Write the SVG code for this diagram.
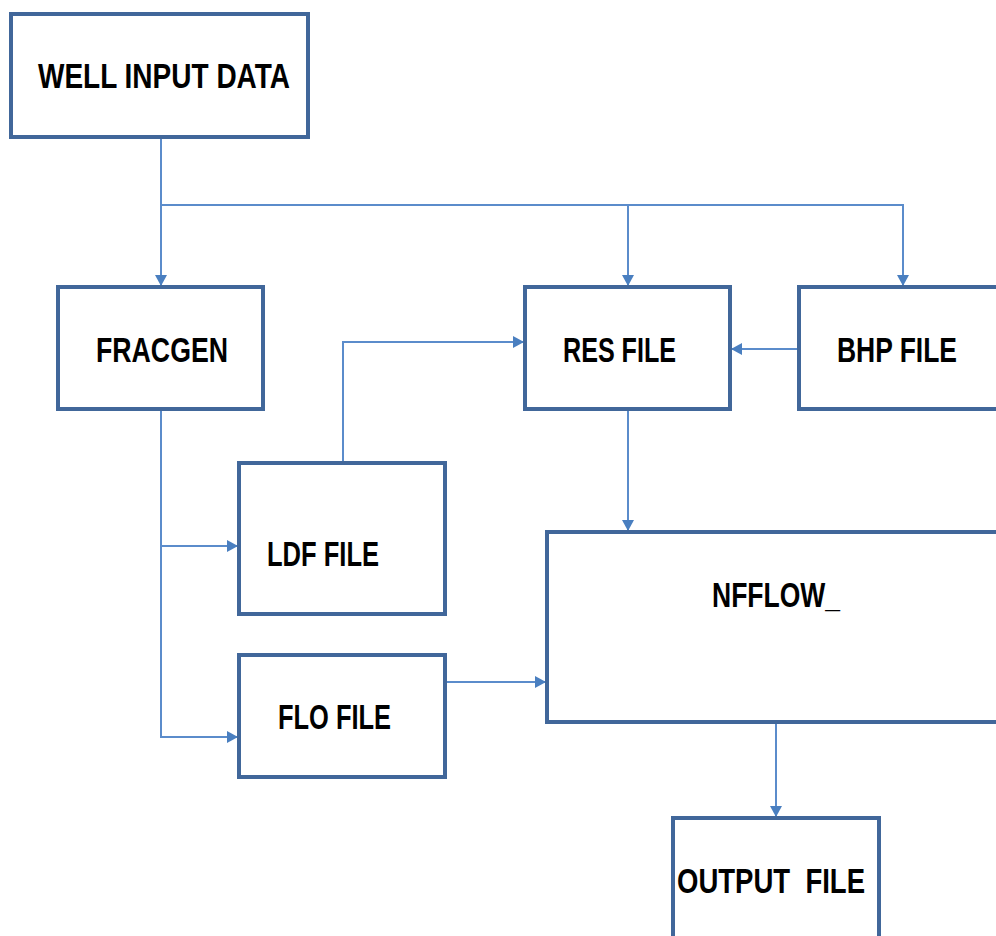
<svg xmlns="http://www.w3.org/2000/svg" width="996" height="936" viewBox="0 0 996 936">
<style>
.box{fill:#fff;stroke:#41679a;stroke-width:4}
.lbl{font-family:"Liberation Sans",Arial,sans-serif;font-weight:bold;font-size:35px;fill:#000}
.con{fill:none;stroke:#5b8ccb;stroke-width:2}
</style>
<defs>
<marker id="ah" markerUnits="userSpaceOnUse" markerWidth="12" markerHeight="12" refX="11" refY="6" orient="auto">
<path d="M0,0 L11,6 L0,12 Z" fill="#4a7fc0"/>
</marker>
</defs>
<rect width="996" height="936" fill="#fff"/>
<g id="connectors">
<path class="con" d="M161,137 V286" marker-end="url(#ah)"/>
<path class="con" d="M161,205 H903 V286" marker-end="url(#ah)"/>
<path class="con" d="M628,205 V286" marker-end="url(#ah)"/>
<path class="con" d="M799,349 H731" marker-end="url(#ah)"/>
<path class="con" d="M343,463 V342 H524" marker-end="url(#ah)"/>
<path class="con" d="M161,409 V737 H238" marker-end="url(#ah)"/>
<path class="con" d="M161,546 H238" marker-end="url(#ah)"/>
<path class="con" d="M445,682 H546" marker-end="url(#ah)"/>
<path class="con" d="M628,409 V531" marker-end="url(#ah)"/>
<path class="con" d="M776,722 V817" marker-end="url(#ah)"/>
</g>
<g id="well"><rect class="box" x="11" y="14" width="297" height="123"/><text class="lbl" x="38" y="88" textLength="252" lengthAdjust="spacingAndGlyphs">WELL INPUT DATA</text></g>
<g id="fracgen"><rect class="box" x="58" y="287" width="205" height="122"/><text class="lbl" x="96" y="362" textLength="132" lengthAdjust="spacingAndGlyphs">FRACGEN</text></g>
<g id="res"><rect class="box" x="525" y="287" width="205" height="122"/><text class="lbl" x="563" y="362" textLength="113" lengthAdjust="spacingAndGlyphs">RES FILE</text></g>
<g id="bhp"><rect class="box" x="799" y="287" width="210" height="122"/><text class="lbl" x="837" y="362" textLength="120" lengthAdjust="spacingAndGlyphs">BHP FILE</text></g>
<g id="ldf"><rect class="box" x="239" y="463" width="206" height="151"/><text class="lbl" x="267" y="566" textLength="112" lengthAdjust="spacingAndGlyphs">LDF FILE</text></g>
<g id="flo"><rect class="box" x="239" y="655" width="206" height="122"/><text class="lbl" x="278" y="729" textLength="113" lengthAdjust="spacingAndGlyphs">FLO FILE</text></g>
<g id="nfflow"><rect class="box" x="547" y="532" width="460" height="190"/><text class="lbl" x="712" y="607" textLength="128" lengthAdjust="spacingAndGlyphs">NFFLOW_</text></g>
<g id="output"><rect class="box" x="673" y="818" width="206" height="140"/><text class="lbl" x="677" y="893" textLength="188" lengthAdjust="spacingAndGlyphs" xml:space="preserve">OUTPUT  FILE</text></g>
</svg>
